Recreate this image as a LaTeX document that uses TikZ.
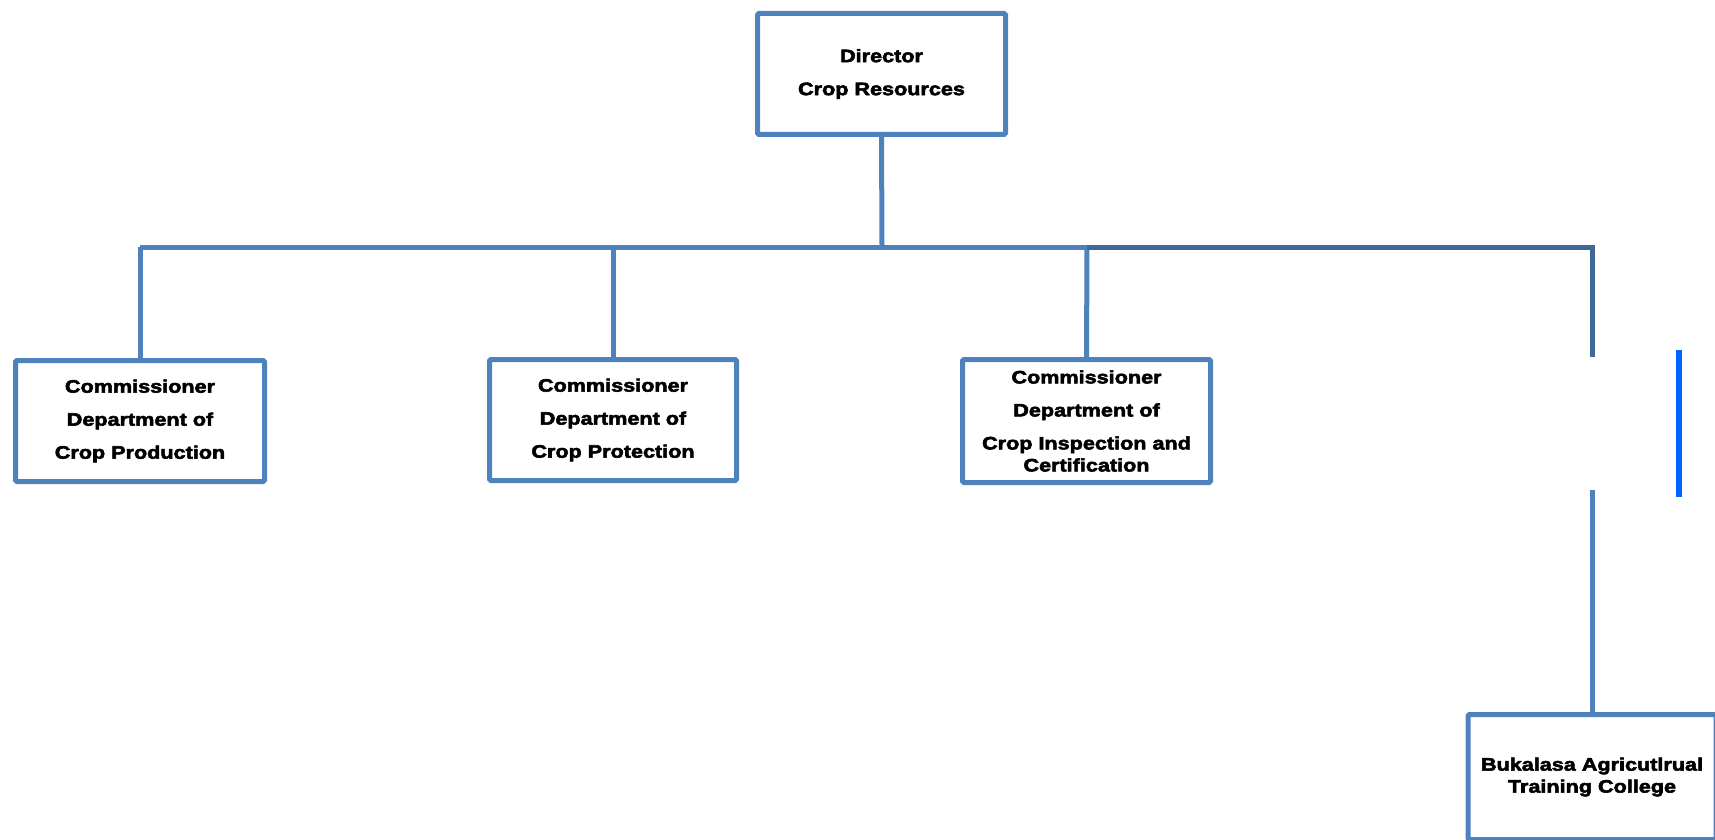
\documentclass[tikz,border=0pt]{standalone}
\usepackage{fontspec}
\setmainfont{Liberation Sans}[FakeStretch=1.2,FakeBold=3]
\begin{document}
\begin{tikzpicture}[x=1pt,y=-1pt,
  orgbox/.style={draw=boxblue,line width=5pt,rounded corners=1.5pt,fill=white,
    minimum width=248pt,minimum height=121pt,inner sep=0pt,align=center,
    font=\bfseries\fontsize{18}{33}\selectfont},
  link/.style={draw=boxblue,line width=5pt},
  darklink/.style={draw=darkblue,line width=5pt},
  brightbar/.style={draw=brightblue,line width=5.5pt}]
\definecolor{boxblue}{HTML}{4F81BD}
\definecolor{darkblue}{HTML}{3E6898}
\definecolor{brightblue}{HTML}{0066FF}
\useasboundingbox (0,0) rectangle (1715,840);
\begin{scope}
\clip (0,0) rectangle (1715,840);
% boxes
\node[orgbox] (dir) at (881.5,74) {Director\\Crop Resources};
\node[orgbox,minimum width=249pt] (prod) at (140,421) {Commissioner\\Department of\\Crop Production};
\node[orgbox,minimum width=247pt] (prot) at (613,420) {Commissioner\\Department of\\Crop Protection};
\node[orgbox,minimum height=123pt] (insp) at (1086.5,421) {Commissioner\\Department of\\Crop Inspection and\\[-11pt]Certification};
\node[orgbox,minimum height=125pt,font=\bfseries\fontsize{18}{22}\selectfont] (batc) at (1592,777) {Bukalasa Agricutlrual\\Training College};
% junction points
\coordinate (bus) at (882,247);
\coordinate (busL) at (140,247);
\coordinate (busR) at (1087,247);
\coordinate (corner) at (1592,247);
\coordinate (gapTop) at (1592,357);
\coordinate (gapBot) at (1592,490);
\coordinate (barTop) at (1679,350);
\coordinate (barBot) at (1679,497);
% connectors
\draw[link] (dir.south) -- (bus);
\draw[link] (busL) -- (busR);
\draw[link] (busL) -- (prod.north);
\draw[link] (prot.north |- bus) -- (prot.north);
\draw[link] (busR) -- (insp.north);
\draw[darklink] (busR) -- (corner) -- (gapTop);
\draw[link] (gapBot) -- (batc.north);
\draw[brightbar] (barTop) -- (barBot);
\end{scope}
\end{tikzpicture}
\end{document}
